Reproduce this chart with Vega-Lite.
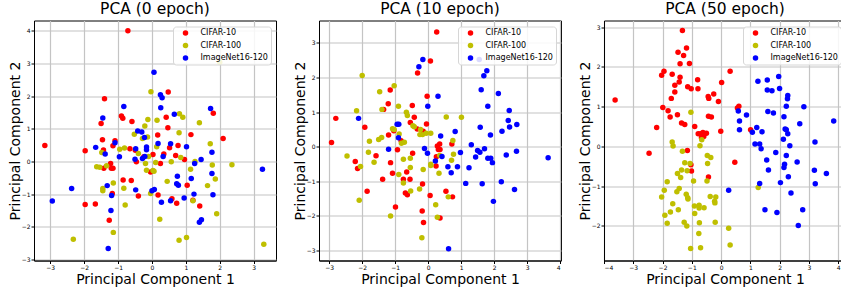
{
  "$schema": "https://vega.github.io/schema/vega-lite/v6.json",
  "padding": {"left": 7, "top": 0.5, "right": 0, "bottom": 0},
  "background": "white",
  "bounds": "flush",
  "spacing": 43,
  "resolve": {"legend": {"color": "independent"}},
  "config": {
    "font": "DejaVu Sans",
    "view": {"stroke": "black", "strokeWidth": 1},
    "title": {"fontSize": 15.5, "fontWeight": "normal", "font": "DejaVu Sans", "baseline": "alphabetic", "offset": 3.5, "color": "black"},
    "axis": {
      "labelFontSize": 6, "labelColor": "black", "labelFont": "DejaVu Sans", "labelPadding": 1,
      "tickSize": 3, "tickColor": "black", "domainColor": "black", "domainWidth": 1,
      "gridColor": "#c4c4c4", "gridWidth": 1.2, "gridOpacity": 1,
      "titleFontSize": 14, "titleFontWeight": "normal", "titleFont": "DejaVu Sans", "titleColor": "black", "titlePadding": 0
    },
    "axisX": {"titleBaseline": "alphabetic", "titleY": 23},
    "axisY": {"titleBaseline": "alphabetic", "titleX": -15},
    "legend": {
      "orient": "top-right", "title": null, "fillColor": "rgba(255,255,255,0.85)", "strokeColor": "#d6d6d6", "cornerRadius": 3,
      "padding": 2.5, "offset": 5.5, "labelFontSize": 8, "labelFont": "DejaVu Sans", "labelColor": "black",
      "symbolSize": 30, "symbolType": "circle", "symbolOffset": 6, "rowPadding": 4.5, "labelOffset": 11
    },
    "point": {"filled": true, "size": 30, "opacity": 1}
  },
  "datasets": {
    "e0": [
      {"d":"CIFAR-10","x":-0.71,"y":4.0},{"d":"CIFAR-10","x":-3.16,"y":0.49},{"d":"CIFAR-10","x":-1.97,"y":0.33},{"d":"CIFAR-10","x":-1.40,"y":1.92},{"d":"CIFAR-10","x":-1.50,"y":1.16},{"d":"CIFAR-10","x":-1.46,"y":0.66},{"d":"CIFAR-10","x":-1.43,"y":0.35},{"d":"CIFAR-10","x":-1.42,"y":-0.21},{"d":"CIFAR-10","x":-1.15,"y":0.48},{"d":"CIFAR-10","x":-1.09,"y":0.63},{"d":"CIFAR-10","x":-1.22,"y":-0.06},{"d":"CIFAR-10","x":-1.20,"y":-0.21},{"d":"CIFAR-10","x":-1.15,"y":-0.21},{"d":"CIFAR-10","x":-0.90,"y":1.39},{"d":"CIFAR-10","x":-0.86,"y":1.32},{"d":"CIFAR-10","x":-0.65,"y":0.39},{"d":"CIFAR-10","x":-0.59,"y":1.22},{"d":"CIFAR-10","x":-0.46,"y":-0.01},{"d":"CIFAR-10","x":-0.85,"y":-0.57},{"d":"CIFAR-10","x":-0.61,"y":-0.58},{"d":"CIFAR-10","x":-0.40,"y":-1.06},{"d":"CIFAR-10","x":-1.17,"y":-0.98},{"d":"CIFAR-10","x":-1.97,"y":-1.32},{"d":"CIFAR-10","x":-1.67,"y":-1.30},{"d":"CIFAR-10","x":-1.26,"y":-1.80},{"d":"CIFAR-10","x":-0.24,"y":0.14},{"d":"CIFAR-10","x":-0.04,"y":-0.32},{"d":"CIFAR-10","x":0.03,"y":0.21},{"d":"CIFAR-10","x":0.17,"y":0.81},{"d":"CIFAR-10","x":0.42,"y":1.35},{"d":"CIFAR-10","x":0.48,"y":2.12},{"d":"CIFAR-10","x":0.47,"y":1.03},{"d":"CIFAR-10","x":0.35,"y":0.23},{"d":"CIFAR-10","x":0.25,"y":-0.06},{"d":"CIFAR-10","x":0.52,"y":0.42},{"d":"CIFAR-10","x":0.70,"y":0.18},{"d":"CIFAR-10","x":0.77,"y":0.49},{"d":"CIFAR-10","x":0.96,"y":0.06},{"d":"CIFAR-10","x":1.15,"y":0.82},{"d":"CIFAR-10","x":1.04,"y":-0.73},{"d":"CIFAR-10","x":2.10,"y":0.70},{"d":"CIFAR-10","x":1.81,"y":1.47},{"d":"CIFAR-10","x":1.41,"y":-1.36},{"d":"CIFAR-10","x":1.21,"y":-1.19},{"d":"CIFAR-10","x":0.73,"y":-1.28},{"d":"CIFAR-10","x":0.59,"y":-1.14},{"d":"CIFAR-10","x":0.18,"y":-1.03},{"d":"CIFAR-10","x":-0.49,"y":0.34},
      {"d":"CIFAR-100","x":2.00,"y":3.03},{"d":"CIFAR-100","x":-0.03,"y":2.13},{"d":"CIFAR-100","x":0.81,"y":1.46},{"d":"CIFAR-100","x":0.91,"y":1.35},{"d":"CIFAR-100","x":1.40,"y":1.18},{"d":"CIFAR-100","x":0.15,"y":1.26},{"d":"CIFAR-100","x":-0.12,"y":1.28},{"d":"CIFAR-100","x":-0.21,"y":1.08},{"d":"CIFAR-100","x":-0.52,"y":0.83},{"d":"CIFAR-100","x":-0.28,"y":0.70},{"d":"CIFAR-100","x":-0.13,"y":0.75},{"d":"CIFAR-100","x":-0.40,"y":0.24},{"d":"CIFAR-100","x":-0.81,"y":0.41},{"d":"CIFAR-100","x":-0.95,"y":0.37},{"d":"CIFAR-100","x":-1.48,"y":0.27},{"d":"CIFAR-100","x":-1.63,"y":-0.16},{"d":"CIFAR-100","x":-1.54,"y":-0.18},{"d":"CIFAR-100","x":-1.34,"y":-0.13},{"d":"CIFAR-100","x":-1.45,"y":-0.83},{"d":"CIFAR-100","x":-1.45,"y":-0.90},{"d":"CIFAR-100","x":-1.14,"y":-0.66},{"d":"CIFAR-100","x":-0.83,"y":-0.82},{"d":"CIFAR-100","x":-0.79,"y":-1.33},{"d":"CIFAR-100","x":-1.14,"y":-2.17},{"d":"CIFAR-100","x":-2.32,"y":-2.38},{"d":"CIFAR-100","x":-0.19,"y":-0.06},{"d":"CIFAR-100","x":-0.16,"y":-0.27},{"d":"CIFAR-100","x":-0.10,"y":0.15},{"d":"CIFAR-100","x":0.03,"y":-0.28},{"d":"CIFAR-100","x":0.06,"y":-0.30},{"d":"CIFAR-100","x":0.11,"y":-0.03},{"d":"CIFAR-100","x":0.14,"y":0.45},{"d":"CIFAR-100","x":-0.04,"y":-0.98},{"d":"CIFAR-100","x":0.45,"y":-0.61},{"d":"CIFAR-100","x":0.57,"y":-0.01},{"d":"CIFAR-100","x":0.80,"y":0.88},{"d":"CIFAR-100","x":0.85,"y":0.12},{"d":"CIFAR-100","x":1.27,"y":0.0},{"d":"CIFAR-100","x":1.14,"y":-0.24},{"d":"CIFAR-100","x":1.21,"y":-1.20},{"d":"CIFAR-100","x":1.72,"y":0.54},{"d":"CIFAR-100","x":1.78,"y":-0.11},{"d":"CIFAR-100","x":1.87,"y":-0.54},{"d":"CIFAR-100","x":1.64,"y":-0.74},{"d":"CIFAR-100","x":2.36,"y":-0.10},{"d":"CIFAR-100","x":1.91,"y":-1.60},{"d":"CIFAR-100","x":0.23,"y":-1.77},{"d":"CIFAR-100","x":0.80,"y":-2.41},{"d":"CIFAR-100","x":1.02,"y":-2.33},{"d":"CIFAR-100","x":3.30,"y":-2.53},
      {"d":"ImageNet16-120","x":0.06,"y":2.73},{"d":"ImageNet16-120","x":0.25,"y":2.04},{"d":"ImageNet16-120","x":0.30,"y":1.95},{"d":"ImageNet16-120","x":0.26,"y":1.64},{"d":"ImageNet16-120","x":0.66,"y":1.44},{"d":"ImageNet16-120","x":1.73,"y":1.62},{"d":"ImageNet16-120","x":-1.45,"y":1.33},{"d":"ImageNet16-120","x":-0.83,"y":1.68},{"d":"ImageNet16-120","x":-1.09,"y":0.57},{"d":"ImageNet16-120","x":-1.66,"y":0.43},{"d":"ImageNet16-120","x":-1.38,"y":0.23},{"d":"ImageNet16-120","x":-0.96,"y":0.14},{"d":"ImageNet16-120","x":-0.42,"y":0.93},{"d":"ImageNet16-120","x":-0.30,"y":0.90},{"d":"ImageNet16-120","x":-0.48,"y":0.39},{"d":"ImageNet16-120","x":-0.50,"y":0.07},{"d":"ImageNet16-120","x":-0.22,"y":0.73},{"d":"ImageNet16-120","x":-0.16,"y":0.44},{"d":"ImageNet16-120","x":-0.16,"y":0.36},{"d":"ImageNet16-120","x":-0.21,"y":0.15},{"d":"ImageNet16-120","x":-0.28,"y":0.09},{"d":"ImageNet16-120","x":0.18,"y":0.55},{"d":"ImageNet16-120","x":0.33,"y":0.15},{"d":"ImageNet16-120","x":0.55,"y":0.54},{"d":"ImageNet16-120","x":1.02,"y":0.45},{"d":"ImageNet16-120","x":1.45,"y":0.06},{"d":"ImageNet16-120","x":1.26,"y":-0.06},{"d":"ImageNet16-120","x":1.77,"y":0.28},{"d":"ImageNet16-120","x":1.77,"y":-0.37},{"d":"ImageNet16-120","x":0.75,"y":-0.45},{"d":"ImageNet16-120","x":0.73,"y":-0.68},{"d":"ImageNet16-120","x":0.78,"y":-0.73},{"d":"ImageNet16-120","x":1.16,"y":-0.52},{"d":"ImageNet16-120","x":1.24,"y":-1.00},{"d":"ImageNet16-120","x":0.95,"y":-1.12},{"d":"ImageNet16-120","x":1.80,"y":-1.02},{"d":"ImageNet16-120","x":1.46,"y":-1.78},{"d":"ImageNet16-120","x":1.40,"y":-1.86},{"d":"ImageNet16-120","x":0.55,"y":-1.20},{"d":"ImageNet16-120","x":0.28,"y":-1.25},{"d":"ImageNet16-120","x":0.07,"y":-0.86},{"d":"ImageNet16-120","x":0.0,"y":-0.90},{"d":"ImageNet16-120","x":-0.48,"y":-0.87},{"d":"ImageNet16-120","x":-1.32,"y":-0.74},{"d":"ImageNet16-120","x":-1.19,"y":-1.04},{"d":"ImageNet16-120","x":-1.21,"y":-1.50},{"d":"ImageNet16-120","x":-1.29,"y":-2.66},{"d":"ImageNet16-120","x":-2.37,"y":-0.83},{"d":"ImageNet16-120","x":-2.94,"y":-1.21},{"d":"ImageNet16-120","x":3.26,"y":-0.24}
    ],
    "e10": [
      {"d":"CIFAR-10","x":0.26,"y":3.32},{"d":"CIFAR-10","x":0.07,"y":2.48},{"d":"CIFAR-10","x":-0.32,"y":2.13},{"d":"CIFAR-10","x":-0.03,"y":1.46},{"d":"CIFAR-10","x":-1.15,"y":1.64},{"d":"CIFAR-10","x":-1.21,"y":1.24},{"d":"CIFAR-10","x":-1.35,"y":1.08},{"d":"CIFAR-10","x":-0.48,"y":1.19},{"d":"CIFAR-10","x":-2.80,"y":0.82},{"d":"CIFAR-10","x":-2.93,"y":0.12},{"d":"CIFAR-10","x":-1.92,"y":0.56},{"d":"CIFAR-10","x":-2.21,"y":-0.43},{"d":"CIFAR-10","x":-2.14,"y":-0.63},{"d":"CIFAR-10","x":-1.85,"y":-1.29},{"d":"CIFAR-10","x":-1.58,"y":-0.26},{"d":"CIFAR-10","x":-1.38,"y":-0.94},{"d":"CIFAR-10","x":-1.20,"y":0.34},{"d":"CIFAR-10","x":-1.04,"y":0.46},{"d":"CIFAR-10","x":-1.14,"y":-0.46},{"d":"CIFAR-10","x":-1.08,"y":-0.77},{"d":"CIFAR-10","x":-0.93,"y":-0.09},{"d":"CIFAR-10","x":-0.82,"y":0.17},{"d":"CIFAR-10","x":-0.99,"y":-1.74},{"d":"CIFAR-10","x":-0.75,"y":-0.94},{"d":"CIFAR-10","x":-0.65,"y":-0.73},{"d":"CIFAR-10","x":-0.69,"y":-1.34},{"d":"CIFAR-10","x":-0.63,"y":-1.39},{"d":"CIFAR-10","x":-0.55,"y":-0.94},{"d":"CIFAR-10","x":-0.54,"y":0.70},{"d":"CIFAR-10","x":-0.42,"y":0.85},{"d":"CIFAR-10","x":-0.47,"y":-0.19},{"d":"CIFAR-10","x":-0.33,"y":0.51},{"d":"CIFAR-10","x":-0.15,"y":0.45},{"d":"CIFAR-10","x":-0.05,"y":0.66},{"d":"CIFAR-10","x":-0.17,"y":-1.08},{"d":"CIFAR-10","x":-0.18,"y":-1.86},{"d":"CIFAR-10","x":-0.14,"y":-2.19},{"d":"CIFAR-10","x":0.06,"y":-1.41},{"d":"CIFAR-10","x":0.28,"y":0.02},{"d":"CIFAR-10","x":0.35,"y":0.08},{"d":"CIFAR-10","x":0.31,"y":-0.08},{"d":"CIFAR-10","x":0.36,"y":-0.08},{"d":"CIFAR-10","x":0.25,"y":-0.29},{"d":"CIFAR-10","x":0.24,"y":-0.56},{"d":"CIFAR-10","x":0.36,"y":-2.06},{"d":"CIFAR-10","x":0.54,"y":-1.29},{"d":"CIFAR-10","x":0.72,"y":0.08},{"d":"CIFAR-10","x":0.74,"y":-1.45},
      {"d":"CIFAR-100","x":-2.00,"y":2.06},{"d":"CIFAR-100","x":-2.17,"y":1.04},{"d":"CIFAR-100","x":-1.03,"y":1.76},{"d":"CIFAR-100","x":-1.47,"y":1.59},{"d":"CIFAR-100","x":-1.40,"y":1.08},{"d":"CIFAR-100","x":-0.90,"y":1.17},{"d":"CIFAR-100","x":-0.66,"y":1.00},{"d":"CIFAR-100","x":-0.63,"y":0.90},{"d":"CIFAR-100","x":-1.08,"y":0.52},{"d":"CIFAR-100","x":-1.03,"y":0.50},{"d":"CIFAR-100","x":-0.88,"y":0.37},{"d":"CIFAR-100","x":-1.41,"y":0.27},{"d":"CIFAR-100","x":-1.50,"y":0.21},{"d":"CIFAR-100","x":-1.78,"y":0.16},{"d":"CIFAR-100","x":-1.81,"y":-0.16},{"d":"CIFAR-100","x":-1.64,"y":-0.45},{"d":"CIFAR-100","x":-2.05,"y":-0.57},{"d":"CIFAR-100","x":-2.46,"y":-0.27},{"d":"CIFAR-100","x":-2.09,"y":-1.55},{"d":"CIFAR-100","x":-1.14,"y":-2.00},{"d":"CIFAR-100","x":-0.81,"y":0.10},{"d":"CIFAR-100","x":-0.72,"y":0.13},{"d":"CIFAR-100","x":-0.75,"y":-0.36},{"d":"CIFAR-100","x":-0.89,"y":-0.80},{"d":"CIFAR-100","x":-0.75,"y":-1.05},{"d":"CIFAR-100","x":-0.53,"y":-1.28},{"d":"CIFAR-100","x":-0.54,"y":-0.60},{"d":"CIFAR-100","x":-0.54,"y":-0.33},{"d":"CIFAR-100","x":-0.46,"y":0.61},{"d":"CIFAR-100","x":-0.42,"y":0.58},{"d":"CIFAR-100","x":-0.25,"y":0.35},{"d":"CIFAR-100","x":-0.23,"y":0.50},{"d":"CIFAR-100","x":-0.17,"y":0.35},{"d":"CIFAR-100","x":-0.06,"y":0.39},{"d":"CIFAR-100","x":0.08,"y":0.39},{"d":"CIFAR-100","x":-0.15,"y":-0.66},{"d":"CIFAR-100","x":0.08,"y":-0.51},{"d":"CIFAR-100","x":0.08,"y":-0.54},{"d":"CIFAR-100","x":0.33,"y":-0.77},{"d":"CIFAR-100","x":0.35,"y":-0.25},{"d":"CIFAR-100","x":0.23,"y":-1.68},{"d":"CIFAR-100","x":0.28,"y":-2.04},{"d":"CIFAR-100","x":-0.26,"y":-1.22},{"d":"CIFAR-100","x":-0.19,"y":-2.63},{"d":"CIFAR-100","x":0.55,"y":0.86},{"d":"CIFAR-100","x":1.01,"y":0.85},{"d":"CIFAR-100","x":0.75,"y":0.18},{"d":"CIFAR-100","x":0.77,"y":-0.22},{"d":"CIFAR-100","x":0.71,"y":-0.39},{"d":"CIFAR-100","x":0.61,"y":-1.45},
      {"d":"ImageNet16-120","x":-0.16,"y":2.52},{"d":"ImageNet16-120","x":-0.28,"y":2.31},{"d":"ImageNet16-120","x":0.30,"y":1.46},{"d":"ImageNet16-120","x":-0.01,"y":1.17},{"d":"ImageNet16-120","x":-2.11,"y":0.82},{"d":"ImageNet16-120","x":-0.94,"y":0.65},{"d":"ImageNet16-120","x":-0.89,"y":0.65},{"d":"ImageNet16-120","x":-0.90,"y":0.26},{"d":"ImageNet16-120","x":-1.20,"y":-0.07},{"d":"ImageNet16-120","x":-0.11,"y":-0.05},{"d":"ImageNet16-120","x":-0.02,"y":-0.19},{"d":"ImageNet16-120","x":0.22,"y":-0.41},{"d":"ImageNet16-120","x":0.38,"y":0.31},{"d":"ImageNet16-120","x":0.42,"y":-0.28},{"d":"ImageNet16-120","x":0.82,"y":0.44},{"d":"ImageNet16-120","x":0.60,"y":-0.58},{"d":"ImageNet16-120","x":0.70,"y":-0.75},{"d":"ImageNet16-120","x":0.89,"y":-0.58},{"d":"ImageNet16-120","x":0.98,"y":-0.17},{"d":"ImageNet16-120","x":0.62,"y":-2.95},{"d":"ImageNet16-120","x":1.14,"y":-1.06},{"d":"ImageNet16-120","x":1.24,"y":-0.61},{"d":"ImageNet16-120","x":1.31,"y":0.06},{"d":"ImageNet16-120","x":1.44,"y":-0.30},{"d":"ImageNet16-120","x":1.50,"y":-0.11},{"d":"ImageNet16-120","x":1.55,"y":2.52},{"d":"ImageNet16-120","x":1.69,"y":2.05},{"d":"ImageNet16-120","x":1.78,"y":2.20},{"d":"ImageNet16-120","x":1.61,"y":1.65},{"d":"ImageNet16-120","x":1.81,"y":1.17},{"d":"ImageNet16-120","x":1.58,"y":0.56},{"d":"ImageNet16-120","x":1.57,"y":-0.16},{"d":"ImageNet16-120","x":1.71,"y":-0.06},{"d":"ImageNet16-120","x":1.64,"y":-1.07},{"d":"ImageNet16-120","x":1.81,"y":-0.33},{"d":"ImageNet16-120","x":1.89,"y":0.34},{"d":"ImageNet16-120","x":1.90,"y":-0.33},{"d":"ImageNet16-120","x":1.95,"y":-0.46},{"d":"ImageNet16-120","x":1.98,"y":-1.58},{"d":"ImageNet16-120","x":2.13,"y":1.54},{"d":"ImageNet16-120","x":2.24,"y":0.45},{"d":"ImageNet16-120","x":2.22,"y":-1.01},{"d":"ImageNet16-120","x":2.37,"y":-0.24},{"d":"ImageNet16-120","x":2.43,"y":0.76},{"d":"ImageNet16-120","x":2.46,"y":1.05},{"d":"ImageNet16-120","x":2.47,"y":0.57},{"d":"ImageNet16-120","x":2.69,"y":0.64},{"d":"ImageNet16-120","x":2.68,"y":-0.13},{"d":"ImageNet16-120","x":2.62,"y":-1.24},{"d":"ImageNet16-120","x":3.64,"y":-0.32}
    ],
    "e50": [
      {"d":"CIFAR-10","x":-1.32,"y":2.92},{"d":"CIFAR-10","x":-1.18,"y":2.48},{"d":"CIFAR-10","x":-1.28,"y":2.29},{"d":"CIFAR-10","x":-1.47,"y":2.37},{"d":"CIFAR-10","x":-1.40,"y":2.08},{"d":"CIFAR-10","x":-1.08,"y":2.09},{"d":"CIFAR-10","x":-1.95,"y":1.89},{"d":"CIFAR-10","x":-2.03,"y":1.79},{"d":"CIFAR-10","x":-1.67,"y":1.82},{"d":"CIFAR-10","x":-1.40,"y":1.74},{"d":"CIFAR-10","x":-1.43,"y":1.62},{"d":"CIFAR-10","x":-1.58,"y":1.54},{"d":"CIFAR-10","x":-1.58,"y":1.37},{"d":"CIFAR-10","x":-1.70,"y":1.21},{"d":"CIFAR-10","x":-1.14,"y":1.50},{"d":"CIFAR-10","x":-1.02,"y":1.45},{"d":"CIFAR-10","x":-0.79,"y":1.45},{"d":"CIFAR-10","x":-0.80,"y":1.68},{"d":"CIFAR-10","x":-3.62,"y":1.17},{"d":"CIFAR-10","x":-1.99,"y":0.98},{"d":"CIFAR-10","x":-1.81,"y":0.90},{"d":"CIFAR-10","x":-1.74,"y":0.74},{"d":"CIFAR-10","x":-1.49,"y":0.80},{"d":"CIFAR-10","x":-1.35,"y":0.59},{"d":"CIFAR-10","x":-1.24,"y":0.55},{"d":"CIFAR-10","x":-2.20,"y":0.48},{"d":"CIFAR-10","x":-2.46,"y":-0.17},{"d":"CIFAR-10","x":-1.15,"y":-0.10},{"d":"CIFAR-10","x":-0.90,"y":0.50},{"d":"CIFAR-10","x":-0.78,"y":0.32},{"d":"CIFAR-10","x":-0.70,"y":0.32},{"d":"CIFAR-10","x":-0.62,"y":0.35},{"d":"CIFAR-10","x":-0.50,"y":0.33},{"d":"CIFAR-10","x":-0.59,"y":0.25},{"d":"CIFAR-10","x":-0.67,"y":0.22},{"d":"CIFAR-10","x":-0.44,"y":1.26},{"d":"CIFAR-10","x":-0.42,"y":1.21},{"d":"CIFAR-10","x":-0.25,"y":1.32},{"d":"CIFAR-10","x":-0.09,"y":1.13},{"d":"CIFAR-10","x":0.02,"y":1.61},{"d":"CIFAR-10","x":-0.43,"y":0.76},{"d":"CIFAR-10","x":-0.33,"y":0.74},{"d":"CIFAR-10","x":-0.01,"y":0.38},{"d":"CIFAR-10","x":0.31,"y":1.89},{"d":"CIFAR-10","x":0.56,"y":0.97},{"d":"CIFAR-10","x":0.61,"y":1.01},{"d":"CIFAR-10","x":1.01,"y":0.42},{"d":"CIFAR-10","x":0.47,"y":-0.40},{"d":"CIFAR-10","x":-1.03,"y":-0.46},{"d":"CIFAR-10","x":-1.01,"y":-0.62},{"d":"CIFAR-10","x":-0.43,"y":-0.77},
      {"d":"CIFAR-100","x":-1.03,"y":0.86},{"d":"CIFAR-100","x":-1.67,"y":0.11},{"d":"CIFAR-100","x":-1.64,"y":0.01},{"d":"CIFAR-100","x":-1.32,"y":-0.12},{"d":"CIFAR-100","x":-0.66,"y":0.17},{"d":"CIFAR-100","x":-0.72,"y":0.02},{"d":"CIFAR-100","x":-0.47,"y":-0.23},{"d":"CIFAR-100","x":-0.35,"y":-0.28},{"d":"CIFAR-100","x":-0.46,"y":-0.43},{"d":"CIFAR-100","x":-1.24,"y":-0.41},{"d":"CIFAR-100","x":-1.35,"y":-0.59},{"d":"CIFAR-100","x":-1.06,"y":-0.43},{"d":"CIFAR-100","x":-1.49,"y":-0.68},{"d":"CIFAR-100","x":-1.38,"y":-0.78},{"d":"CIFAR-100","x":-1.16,"y":-0.61},{"d":"CIFAR-100","x":-0.94,"y":-0.87},{"d":"CIFAR-100","x":-0.48,"y":-0.87},{"d":"CIFAR-100","x":-1.84,"y":-0.89},{"d":"CIFAR-100","x":-1.94,"y":-1.10},{"d":"CIFAR-100","x":-2.03,"y":-1.27},{"d":"CIFAR-100","x":-1.43,"y":-1.06},{"d":"CIFAR-100","x":-1.51,"y":-1.14},{"d":"CIFAR-100","x":-1.19,"y":-1.20},{"d":"CIFAR-100","x":-1.14,"y":-1.29},{"d":"CIFAR-100","x":-1.13,"y":-1.32},{"d":"CIFAR-100","x":-1.65,"y":-1.44},{"d":"CIFAR-100","x":-1.92,"y":-1.73},{"d":"CIFAR-100","x":-1.73,"y":-1.65},{"d":"CIFAR-100","x":-1.46,"y":-1.59},{"d":"CIFAR-100","x":-1.84,"y":-1.93},{"d":"CIFAR-100","x":-1.26,"y":-1.91},{"d":"CIFAR-100","x":-1.17,"y":-2.00},{"d":"CIFAR-100","x":-0.91,"y":-1.50},{"d":"CIFAR-100","x":-0.75,"y":-1.48},{"d":"CIFAR-100","x":-0.75,"y":-1.55},{"d":"CIFAR-100","x":-0.58,"y":-1.54},{"d":"CIFAR-100","x":-0.90,"y":-1.69},{"d":"CIFAR-100","x":-0.74,"y":-1.92},{"d":"CIFAR-100","x":-0.76,"y":-2.19},{"d":"CIFAR-100","x":-1.04,"y":-2.57},{"d":"CIFAR-100","x":-0.70,"y":-2.55},{"d":"CIFAR-100","x":-0.37,"y":-1.26},{"d":"CIFAR-100","x":-0.22,"y":-1.38},{"d":"CIFAR-100","x":-0.21,"y":-1.42},{"d":"CIFAR-100","x":-0.18,"y":-1.27},{"d":"CIFAR-100","x":-0.20,"y":-1.91},{"d":"CIFAR-100","x":0.26,"y":-2.06},{"d":"CIFAR-100","x":0.31,"y":-2.48},{"d":"CIFAR-100","x":1.27,"y":-1.03},
      {"d":"ImageNet16-120","x":1.26,"y":1.64},{"d":"ImageNet16-120","x":1.58,"y":1.67},{"d":"ImageNet16-120","x":1.97,"y":1.76},{"d":"ImageNet16-120","x":2.00,"y":1.46},{"d":"ImageNet16-120","x":1.58,"y":1.42},{"d":"ImageNet16-120","x":1.74,"y":1.40},{"d":"ImageNet16-120","x":2.28,"y":1.28},{"d":"ImageNet16-120","x":2.27,"y":1.20},{"d":"ImageNet16-120","x":2.23,"y":1.01},{"d":"ImageNet16-120","x":2.83,"y":1.00},{"d":"ImageNet16-120","x":0.59,"y":0.89},{"d":"ImageNet16-120","x":0.87,"y":0.79},{"d":"ImageNet16-120","x":0.63,"y":0.64},{"d":"ImageNet16-120","x":0.63,"y":0.42},{"d":"ImageNet16-120","x":1.60,"y":0.88},{"d":"ImageNet16-120","x":1.79,"y":0.84},{"d":"ImageNet16-120","x":2.15,"y":0.75},{"d":"ImageNet16-120","x":1.07,"y":0.36},{"d":"ImageNet16-120","x":1.22,"y":0.48},{"d":"ImageNet16-120","x":1.40,"y":0.37},{"d":"ImageNet16-120","x":2.19,"y":0.44},{"d":"ImageNet16-120","x":2.23,"y":0.42},{"d":"ImageNet16-120","x":2.28,"y":0.32},{"d":"ImageNet16-120","x":2.13,"y":0.18},{"d":"ImageNet16-120","x":2.69,"y":0.57},{"d":"ImageNet16-120","x":3.85,"y":0.64},{"d":"ImageNet16-120","x":1.16,"y":0.06},{"d":"ImageNet16-120","x":1.32,"y":0.06},{"d":"ImageNet16-120","x":1.37,"y":-0.06},{"d":"ImageNet16-120","x":2.35,"y":0.02},{"d":"ImageNet16-120","x":3.21,"y":0.11},{"d":"ImageNet16-120","x":1.87,"y":-0.15},{"d":"ImageNet16-120","x":2.23,"y":-0.23},{"d":"ImageNet16-120","x":1.56,"y":-0.34},{"d":"ImageNet16-120","x":2.17,"y":-0.45},{"d":"ImageNet16-120","x":2.15,"y":-0.53},{"d":"ImageNet16-120","x":2.60,"y":-0.39},{"d":"ImageNet16-120","x":1.62,"y":-0.59},{"d":"ImageNet16-120","x":2.30,"y":-0.76},{"d":"ImageNet16-120","x":1.32,"y":-0.93},{"d":"ImageNet16-120","x":2.03,"y":-0.91},{"d":"ImageNet16-120","x":3.19,"y":-0.60},{"d":"ImageNet16-120","x":3.60,"y":-0.68},{"d":"ImageNet16-120","x":3.22,"y":-0.94},{"d":"ImageNet16-120","x":2.39,"y":-1.17},{"d":"ImageNet16-120","x":0.26,"y":-1.10},{"d":"ImageNet16-120","x":1.50,"y":-1.59},{"d":"ImageNet16-120","x":1.91,"y":-1.66},{"d":"ImageNet16-120","x":2.79,"y":-1.59},{"d":"ImageNet16-120","x":2.64,"y":-1.99}
    ]
  },
  "hconcat": [
    {
      "title": "PCA (0 epoch)",
      "width": 242, "height": 240,
      "data": {"name": "e0"},
      "mark": {"type": "point", "filled": true},
      "encoding": {
        "x": {"field": "x", "type": "quantitative", "title": "Principal Component 1", "scale": {"domain": [-3.48, 3.66], "nice": false, "zero": false}, "axis": {"values": [-3, -2, -1, 0, 1, 2, 3]}},
        "y": {"field": "y", "type": "quantitative", "title": "Principal Component 2", "scale": {"domain": [-3.03, 4.31], "nice": false, "zero": false}, "axis": {"values": [-3, -2, -1, 0, 1, 2, 3, 4]}},
        "color": {"field": "d", "type": "nominal", "scale": {"domain": ["CIFAR-10", "CIFAR-100", "ImageNet16-120"], "range": ["#ff0000", "#bfbf00", "#0000ff"]}, "legend": {"title": null}}
      }
    },
    {
      "title": "PCA (10 epoch)",
      "width": 242, "height": 240,
      "data": {"name": "e10"},
      "mark": {"type": "point", "filled": true},
      "encoding": {
        "x": {"field": "x", "type": "quantitative", "title": "Principal Component 1", "scale": {"domain": [-3.31, 4.03], "nice": false, "zero": false}, "axis": {"values": [-3, -2, -1, 0, 1, 2, 3, 4]}},
        "y": {"field": "y", "type": "quantitative", "title": "Principal Component 2", "scale": {"domain": [-3.29, 3.65], "nice": false, "zero": false}, "axis": {"values": [-3, -2, -1, 0, 1, 2, 3]}},
        "color": {"field": "d", "type": "nominal", "scale": {"domain": ["CIFAR-10", "CIFAR-100", "ImageNet16-120"], "range": ["#ff0000", "#bfbf00", "#0000ff"]}, "legend": {"title": null}}
      }
    },
    {
      "title": "PCA (50 epoch)",
      "width": 242, "height": 240,
      "data": {"name": "e50"},
      "mark": {"type": "point", "filled": true},
      "encoding": {
        "x": {"field": "x", "type": "quantitative", "title": "Principal Component 1", "scale": {"domain": [-4.0, 4.27], "nice": false, "zero": false}, "axis": {"values": [-4, -3, -2, -1, 0, 1, 2, 3, 4]}},
        "y": {"field": "y", "type": "quantitative", "title": "Principal Component 2", "scale": {"domain": [-2.87, 3.17], "nice": false, "zero": false}, "axis": {"values": [-2, -1, 0, 1, 2, 3]}},
        "color": {"field": "d", "type": "nominal", "scale": {"domain": ["CIFAR-10", "CIFAR-100", "ImageNet16-120"], "range": ["#ff0000", "#bfbf00", "#0000ff"]}, "legend": {"title": null}}
      }
    }
  ]
}
